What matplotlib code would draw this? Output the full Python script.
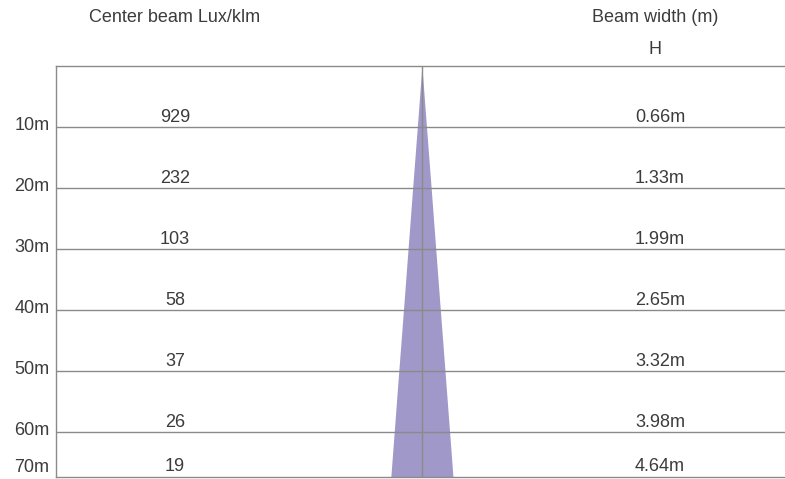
import matplotlib.pyplot as plt
import matplotlib.transforms as mtransforms
import numpy as np

# data
distances = [10, 20, 30, 40, 50, 60, 70]
dist_labels = ["10m", "20m", "30m", "40m", "50m", "60m", "70m"]
lux_per_klm = [929, 232, 103, 58, 37, 26, 19]
beam_width = [0.66, 1.33, 1.99, 2.65, 3.32, 3.98, 4.64]

plt.rcParams['font.family'] = ['Liberation Sans', 'DejaVu Sans']

line_col = '#8a8a8a'
text_col = '#3c3c3c'
cone_col = '#9f98c8'
fs = 13

fig = plt.figure(figsize=(7.85, 4.79), dpi=100)
W, H = 785, 479
ax = fig.add_axes([56 / W, 2 / H, 1 - 56 / W, (477 - 66) / H])

y_max = 67.4
ax.set_ylim(y_max, 0)
ax.set_xlim(-26.3, 26.1)

# beam cone, apex at 0 m, edges through half the beam width at each distance
d = np.array([0] + distances, dtype=float)
hw = np.array([0] + beam_width) / 2
ax.fill_betweenx(d, -hw, hw, color=cone_col, lw=0, zorder=1)
ax.axvline(0, color=line_col, lw=1.0, zorder=2)

for dist in distances[:-1]:
    ax.axhline(dist, color=line_col, lw=1.0, zorder=2)

for s in ['top', 'left', 'bottom']:
    ax.spines[s].set_color(line_col)
    ax.spines[s].set_linewidth(1.0)
ax.spines['right'].set_visible(False)
ax.set_xticks([])
ax.set_yticks([])

trans = mtransforms.blended_transform_factory(fig.transFigure, ax.transData)
for dist, lab, lux, bw in zip(distances, dist_labels, lux_per_klm, beam_width):
    y_lab = min(dist - 0.3, y_max - 1.5)
    y_val = min(dist - 1.5, y_max - 1.8)
    ax.text(32 / W, y_lab, lab, transform=trans, ha='center', va='center',
            fontsize=fs, color=text_col)
    ax.text(175 / W, y_val, str(lux), transform=trans, ha='center', va='center',
            fontsize=fs, color=text_col)
    ax.text(660 / W, y_val, f"{bw:.2f}m", transform=trans, ha='center', va='center',
            fontsize=fs, color=text_col)

fig.text(175 / W, 1 - 17 / H, "Center beam Lux/klm", ha='center', va='center',
         fontsize=fs, color=text_col)
fig.text(655 / W, 1 - 17 / H, "Beam width (m)", ha='center', va='center',
         fontsize=fs, color=text_col)
fig.text(655 / W, 1 - 49 / H, "H", ha='center', va='center',
         fontsize=fs, color=text_col)

fig.savefig('out.png', dpi=100)
